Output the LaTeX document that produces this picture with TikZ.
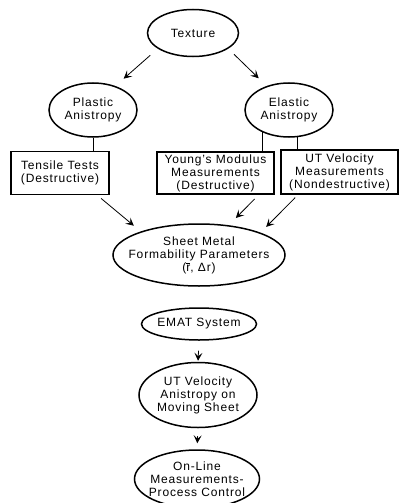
\documentclass[tikz,border=0pt]{standalone}
\usepackage{fontspec}
\setmainfont[LetterSpace=7]{Liberation Sans}
\usetikzlibrary{shapes.geometric}
\usetikzlibrary{arrows.meta}
\usetikzlibrary{calc}

\begin{document}
\begin{tikzpicture}[x=1pt,y=-1pt,
  font=\fontsize{12}{13}\selectfont,
  oval/.style={ellipse,draw,line width=1.5pt,inner xsep=-4pt,inner ysep=0pt,align=center},
  testbox/.style={rectangle,draw,line width=1.5pt,inner sep=0pt,align=center},
  arr/.style={-{Stealth[length=8pt,width=8pt,inset=3.5pt]},line width=0.8pt}]
\useasboundingbox (0,0) rectangle (400,503);
\node[oval,minimum width=91,minimum height=47] (texture) at (193,33) {Texture};
\node[oval,minimum width=88,minimum height=54] (plastic) at (93,110) {Plastic\\Anistropy};
\node[oval,minimum width=88,minimum height=54] (elastic) at (289,110) {Elastic\\Anistropy};
\node[testbox,minimum width=98,minimum height=43] (tensile) at (60,173) {Tensile Tests\\(Destructive)};
\node[testbox,minimum width=117,minimum height=42] (young) at (215.5,173) {Young's Modulus\\Measurements\\(Destructive)};
\node[testbox,minimum width=117,minimum height=44] (ut) at (339.5,172) {UT Velocity\\Measurements\\(Nondestructive)};
\node[oval,inner xsep=-12pt,minimum width=172,minimum height=62] (sheet) at (199,255) {Sheet Metal\\Formability Parameters\\($\overline{\mbox{r}}$, Δr)};
\node[oval,minimum width=115,minimum height=32] (emat) at (199,324) {EMAT System};
\node[oval,minimum width=118,minimum height=65] (uvel) at (198,395) {UT Velocity\\Anistropy on\\Moving Sheet};
\node[oval,minimum width=125,minimum height=58] (online) at (197,479) {On-Line\\Measurements-\\Process Control};

\draw[arr,shorten <=10pt,shorten >=11pt] (texture.204) -- (plastic.47);
\draw[arr,shorten <=8pt,shorten >=11pt] (texture.336) -- (elastic.133);
\draw[line width=0.8pt] (plastic.south) -- (plastic.south |- tensile.north);
\draw[line width=1.5pt] (elastic.220) -- (elastic.220 |- young.north);
\draw[line width=1.5pt] (elastic.287) -- (elastic.287 |- ut.north);
\draw[arr,shorten <=5pt,shorten >=9pt] ($(tensile.south)!0.75!(tensile.south east)$) -- (sheet.158);
\draw[arr,shorten <=6pt,shorten >=10pt] ($(young.south)!0.73!(young.south east)$) -- (sheet.45);
\draw[arr,shorten <=4pt,shorten >=8pt] ($(ut.south west)!0.3!(ut.south)$) -- (sheet.20);
\draw[arr,shorten <=10pt,shorten >=1pt] (emat.south) -- (uvel.north);
\draw[arr,shorten <=8pt,shorten >=6pt] (uvel.south) -- (online.north);
\end{tikzpicture}
\end{document}
